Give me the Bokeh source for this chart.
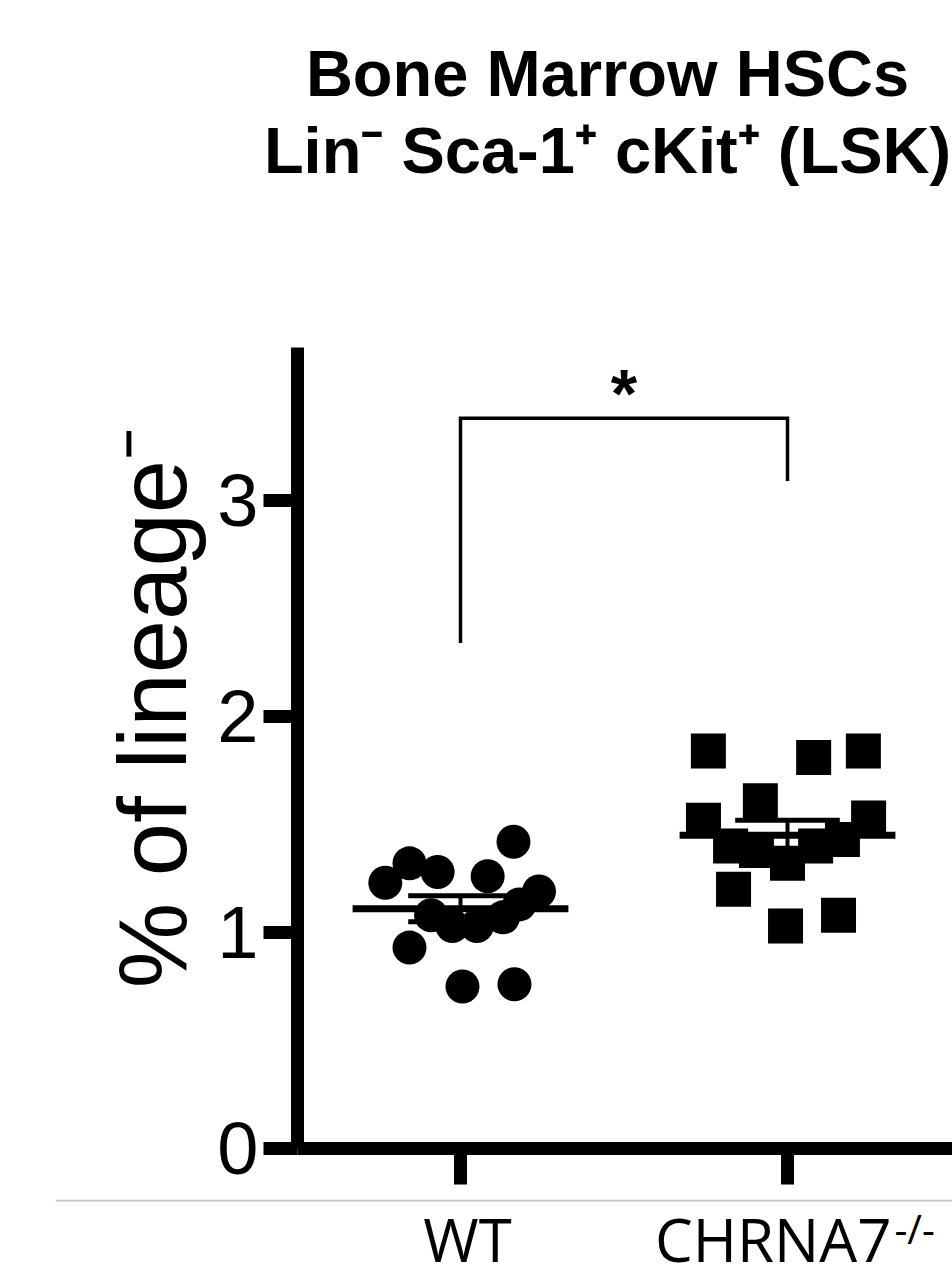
from bokeh.plotting import figure
from bokeh.models import Range1d, FixedTicker, Span
from bokeh.layouts import column
from bokeh.embed import file_html
from bokeh.resources import INLINE
from bokeh.core.properties import value

# ---------------- data ----------------
categories = ["WT", "CHRNA7"]
category_sup = ["", "-/-"]
wt_values = [1.23, 1.32, 1.28, 1.26, 1.42, 1.19, 0.93, 0.75, 0.76, 1.08, 1.03, 1.03, 1.07, 1.13]
wt_jitter = [-0.23, -0.156, -0.07, 0.083, 0.162, 0.24, -0.156, 0.006, 0.165, -0.09, -0.025, 0.05, 0.13, 0.18]
ko_values = [1.84, 1.81, 1.84, 1.61, 1.52, 1.53, 1.20, 1.03, 1.08, 1.40, 1.38, 1.32, 1.40, 1.43]
ko_jitter = [-0.242, 0.08, 0.232, -0.083, -0.257, 0.248, -0.165, -0.006, 0.156, -0.174, -0.095, 0.0, 0.086, 0.168]
means = [1.11, 1.45]
sems = [0.06, 0.07]
y_ticks = [0, 1, 2, 3]
bracket_top = 3.38
bracket_bottoms = [2.34, 3.09]
significance = "*"
title_lines = ["Bone Marrow HSCs", "Lin\u207b Sca-1\u207a cKit\u207a (LSK)"]
y_label = "% of lineage\u207b"

group_x = [i + 1 for i in range(len(categories))]

# ---------------- geometry ----------------
W = 952
HT = 200          # title strip
H1 = 999          # plot
H2 = 80           # category strip
LEFT1 = 297
LEFT2 = 55
X0, X1 = 0.5015, 2.5046
px_per_unit = (W - LEFT1) / (X1 - X0)

FONT = "Liberation Sans"

# ---------------- title strip ----------------
tf = figure(width=W, height=HT, output_backend="svg", toolbar_location=None,
            x_range=Range1d(0, W), y_range=Range1d(0, HT),
            min_border_left=0, min_border_right=0, min_border_top=0,
            min_border_bottom=0, x_axis_location=None, y_axis_location=None)
tf.frame_align = False
tf.outline_line_color = None
tf.grid.visible = False
tf.text(x=[607, 607], y=[HT - 73, HT - 150], text=title_lines,
        text_font=value(FONT), text_font_style="bold", text_font_size="65px",
        text_align="center", text_baseline="alphabetic", text_color="black")

# ---------------- main plot ----------------
p = figure(width=W, height=H1, output_backend="svg", toolbar_location=None,
           x_range=Range1d(X0, X1), y_range=Range1d(0, 3.708),
           min_border_left=LEFT1, min_border_right=0, min_border_top=147,
           min_border_bottom=51)
p.frame_align = False
p.outline_line_color = None
p.grid.visible = False
p.background_fill_color = "white"
p.border_fill_color = "white"

for ax in (p.xaxis[0], p.yaxis[0]):
    ax.axis_line_width = 13
    ax.axis_line_color = "black"
    ax.major_tick_line_width = 13
    ax.major_tick_line_color = "black"
    ax.major_tick_in = 0
    ax.minor_tick_line_color = None

p.yaxis.ticker = FixedTicker(ticks=y_ticks)
p.yaxis.major_tick_out = 34
p.yaxis.major_label_standoff = 5
p.yaxis.major_label_text_font = FONT
p.yaxis.major_label_text_font_size = "74px"
p.yaxis.major_label_text_color = "black"
p.yaxis.axis_label = "\u00a0\u00a0\u00a0" + y_label
p.yaxis.axis_label_text_font = FONT
p.yaxis.axis_label_text_font_size = "96px"
p.yaxis.axis_label_text_font_style = "normal"
p.yaxis.axis_label_text_color = "black"
p.yaxis.axis_label_standoff = 8

p.xaxis.ticker = FixedTicker(ticks=group_x)
p.xaxis.major_tick_out = 36
p.xaxis.major_label_overrides = {g: "" for g in group_x}

# mean and SEM
p.segment(x0=[g - 0.33 for g in group_x], x1=[g + 0.33 for g in group_x],
          y0=means, y1=means, line_width=7, line_color="black")
p.segment(x0=group_x, x1=group_x,
          y0=[m - s for m, s in zip(means, sems)], y1=[m + s for m, s in zip(means, sems)],
          line_width=4, line_color="black")
for sign in (1, -1):
    ys = [m + sign * s for m, s in zip(means, sems)]
    p.segment(x0=[g - 0.16 for g in group_x], x1=[g + 0.16 for g in group_x],
              y0=ys, y1=ys, line_width=5, line_color="black")

# points
p.scatter(x=[group_x[0] + j for j in wt_jitter], y=wt_values, marker="circle",
          size=34, fill_color="black", line_color=None)
p.scatter(x=[group_x[1] + j for j in ko_jitter], y=ko_values, marker="square",
          size=35, fill_color="black", line_color=None)

# significance bracket
p.line(x=[group_x[0], group_x[0], group_x[1], group_x[1]],
       y=[bracket_bottoms[0], bracket_top, bracket_top, bracket_bottoms[1]],
       line_width=3.5, line_color="black", line_join="miter")
p.text(x=[(group_x[0] + group_x[1]) / 2], y=[bracket_top], text=[significance],
       text_font=value(FONT), text_font_style="bold", text_font_size="68px",
       text_align="center", text_baseline="alphabetic", text_color="black",
       y_offset=-25)

# ---------------- category label strip ----------------
q = figure(width=W, height=H2, output_backend="svg", toolbar_location=None,
           x_range=Range1d(X0 - (LEFT1 - LEFT2) / px_per_unit, X1),
           y_range=Range1d(0, H2),
           min_border_left=LEFT2, min_border_right=0, min_border_top=0,
           min_border_bottom=0, x_axis_location=None, y_axis_location=None)
q.frame_align = False
q.outline_line_color = None
q.grid.visible = False
q.add_layout(Span(location=H2 - 1, dimension="width", line_color="#c4c4c4", line_width=2))
q.text(x=[group_x[0]], y=[1], text=[categories[0]], text_font=value("Open Sans"),
       text_font_size="60px", text_align="center", text_baseline="alphabetic",
       x_offset=7, y_offset=-40, text_color="black")
q.text(x=[group_x[1]], y=[1], text=[categories[1]], text_font=value("Open Sans"),
       text_font_size="60px", text_align="right", text_baseline="alphabetic",
       x_offset=104, y_offset=-40, text_color="black")
q.text(x=[group_x[1]], y=[1], text=[category_sup[1]], text_font=value("Open Sans"),
       text_font_size="40px", text_align="left", text_baseline="alphabetic",
       x_offset=107, y_offset=-50, text_color="black")

layout = column(tf, p, q, spacing=0)
open("out.html", "w").write(file_html(layout, INLINE))
